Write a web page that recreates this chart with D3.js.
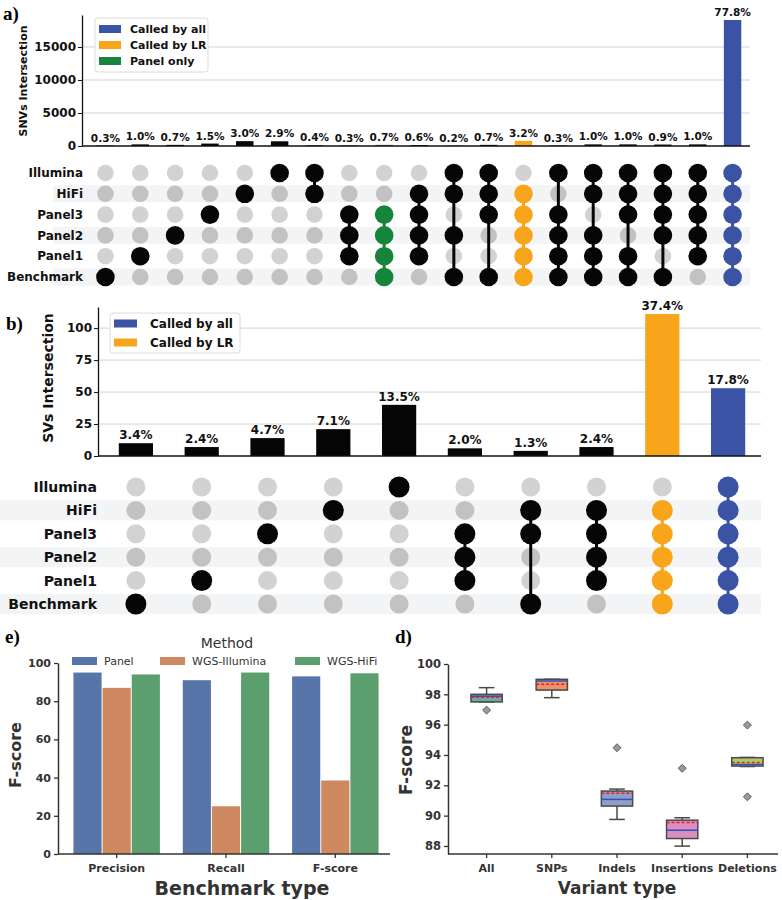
<!DOCTYPE html>
<html>
<head>
<meta charset="utf-8">
<script src="https://cdn.jsdelivr.net/npm/d3@7"></script>
<style>
body { margin: 0; background: #fff; }
text { font-family: "DejaVu Sans", sans-serif; }
</style>
</head>
<body>
<div id="chart"></div>
<script>
var setNames = ['Illumina', 'HiFi', 'Panel3', 'Panel2', 'Panel1', 'Benchmark']

// a) SNV intersections
var snvCounts = [74, 245, 172, 368, 736, 712, 98, 74, 172, 147, 49, 172, 785, 74, 245, 245, 221, 245, 19090]
var snvPct = ['0.3%', '1.0%', '0.7%', '1.5%', '3.0%', '2.9%', '0.4%', '0.3%', '0.7%', '0.6%', '0.2%', '0.7%', '3.2%', '0.3%', '1.0%', '1.0%', '0.9%', '1.0%', '77.8%']
var snvSets = [
  ['Benchmark'], ['Panel1'], ['Panel2'], ['Panel3'], ['HiFi'], ['Illumina'],
  ['Illumina', 'HiFi'],
  ['Panel3', 'Panel2', 'Panel1'],
  ['Panel3', 'Panel2', 'Panel1', 'Benchmark'],
  ['HiFi', 'Panel3', 'Panel2', 'Panel1'],
  ['Illumina', 'HiFi', 'Panel2', 'Benchmark'],
  ['Illumina', 'HiFi', 'Panel3', 'Benchmark'],
  ['HiFi', 'Panel3', 'Panel2', 'Panel1', 'Benchmark'],
  ['Illumina', 'Panel3', 'Panel2', 'Panel1', 'Benchmark'],
  ['Illumina', 'HiFi', 'Panel2', 'Panel1', 'Benchmark'],
  ['Illumina', 'HiFi', 'Panel3', 'Panel1', 'Benchmark'],
  ['Illumina', 'HiFi', 'Panel3', 'Panel2', 'Benchmark'],
  ['Illumina', 'HiFi', 'Panel3', 'Panel2', 'Panel1'],
  ['Illumina', 'HiFi', 'Panel3', 'Panel2', 'Panel1', 'Benchmark']
]
var snvKind = ['', '', '', '', '', '', '', '', 'panel', '', '', '', 'lr', '', '', '', '', '', 'all']
var snvTicks = [0, 5000, 10000, 15000]
var snvLegend = ['Called by all', 'Called by LR', 'Panel only']

// b) SV intersections
var svCounts = [10, 7, 14, 21, 40, 6, 4, 7, 111, 53]
var svPct = ['3.4%', '2.4%', '4.7%', '7.1%', '13.5%', '2.0%', '1.3%', '2.4%', '37.4%', '17.8%']
var svSets = [
  ['Benchmark'], ['Panel1'], ['Panel3'], ['HiFi'], ['Illumina'],
  ['Panel3', 'Panel2', 'Panel1'],
  ['HiFi', 'Panel3', 'Benchmark'],
  ['HiFi', 'Panel3', 'Panel2', 'Panel1'],
  ['HiFi', 'Panel3', 'Panel2', 'Panel1', 'Benchmark'],
  ['Illumina', 'HiFi', 'Panel3', 'Panel2', 'Panel1', 'Benchmark']
]
var svKind = ['', '', '', '', '', '', '', '', 'lr', 'all']
var svTicks = [0, 25, 50, 75, 100]
var svLegend = ['Called by all', 'Called by LR']

// c) benchmark scores
var benchTypes = ['Precision', 'Recall', 'F-score']
var methods = ['Panel', 'WGS-Illumina', 'WGS-HiFi']
var panelScores = [95, 91, 93]
var illuminaScores = [87, 25, 38.5]
var hifiScores = [94, 95, 94.6]
var cTicks = [0, 20, 40, 60, 80, 100]

// d) F-score per variant type
var variantTypes = ['All', 'SNPs', 'Indels', 'Insertions', 'Deletions']
var boxLow = [97.5, 97.78, 89.75, 87.99, 93.24]
var boxQ1 = [97.5, 98.28, 90.63, 88.49, 93.27]
var boxMedian = [97.88, 98.88, 91.07, 89.04, 93.38]
var boxMean = [97.8, 98.66, 91.47, 89.55, 93.51]
var boxQ3 = [98.0, 98.99, 91.62, 89.7, 93.82]
var boxHigh = [98.44, 98.99, 91.75, 89.86, 93.84]
var boxOutliers = [[96.96], [], [94.48], [93.12], [95.97, 91.24]]
var dTicks = [88, 90, 92, 94, 96, 98, 100]

var kindColor = {'': '#060606', all: '#3a53a4', lr: '#f8a51b', panel: '#17843b'}
var legendColor = {'Called by all': '#3a53a4', 'Called by LR': '#f8a51b', 'Panel only': '#17843b'}

var svg = d3.select('#chart').append('svg').attr('width', 782).attr('height', 900)

function upset(o) {
  var g = svg.append('g')
  var n = o.counts.length
  var x = d3.scaleBand().domain(d3.range(n)).range(o.xRange).paddingInner(o.pad).paddingOuter(o.pad / 2)
  var y = d3.scaleLinear().domain(o.yDomain).range(o.yRange)
  var rows = d3.scaleBand().domain(setNames)
    .range([o.row0 - o.rowStep / 2, o.row0 + (setNames.length - 0.5) * o.rowStep])
  var cx = function(i){ return x(i) + x.bandwidth() / 2 }
  var cy = function(s){ return rows(s) + rows.bandwidth() / 2 }

  g.selectAll('line.grid').data(o.ticks.filter(function(t){ return t > 0 })).join('line')
    .attr('x1', o.axisX).attr('x2', o.xEnd)
    .attr('y1', y).attr('y2', y)
    .attr('stroke', '#d3d3d3').attr('stroke-width', 1)

  g.selectAll('rect.bar').data(o.counts).join('rect')
    .attr('x', function(d, i){ return x(i) })
    .attr('width', x.bandwidth())
    .attr('y', function(d){ return y(d) })
    .attr('height', function(d){ return y(0) - y(d) })
    .attr('fill', function(d, i){ return kindColor[o.kind[i]] })

  g.selectAll('text.pct').data(o.counts).join('text')
    .attr('x', function(d, i){ return cx(i) })
    .attr('y', function(d){ return y(d) - 4 })
    .attr('text-anchor', 'middle')
    .style('font-size', o.pctSize + 'px').style('font-weight', 'bold').attr('fill', '#111')
    .text(function(d, i){ return o.pct[i] })

  var ax = g.append('g').attr('transform', 'translate(' + o.axisX + ',0)')
    .call(d3.axisLeft(y).tickValues(o.ticks).tickFormat(d3.format('d')).tickSize(4).tickSizeOuter(0).tickPadding(2))
  ax.select('.domain').attr('stroke', '#111').attr('stroke-width', 1.3)
  ax.selectAll('.tick line').attr('stroke', '#111')
  ax.selectAll('.tick text').style('font-size', o.tickSize + 'px').style('font-weight', 'bold')
    .style('font-family', 'DejaVu Sans').attr('fill', '#111')

  g.append('line').attr('x1', o.axisX).attr('x2', o.xEnd).attr('y1', y(0)).attr('y2', y(0))
    .attr('stroke', '#111').attr('stroke-width', 1.3)

  g.append('text')
    .attr('transform', 'translate(' + o.ylabX + ',' + o.ylabY + ') rotate(-90)')
    .attr('dy', '0.35em').attr('text-anchor', 'middle')
    .style('font-size', o.ylabSize + 'px').style('font-weight', 'bold').attr('fill', '#111')
    .text(o.ylab)

  // legend
  var lg = g.append('g')
  lg.append('rect').attr('x', o.leg.x).attr('y', o.leg.y).attr('width', o.leg.w).attr('height', o.leg.h)
    .attr('rx', 3).attr('fill', '#fff').attr('stroke', '#dcdcdc')
  o.legend.forEach(function(name, i){
    var yy = o.leg.y + o.leg.first + i * o.leg.step
    lg.append('rect').attr('x', o.leg.x + 4).attr('y', yy - 4).attr('width', o.leg.sw).attr('height', 8)
      .attr('fill', legendColor[name])
    lg.append('text').attr('x', o.leg.x + o.leg.tx).attr('y', yy).attr('dy', '0.35em')
      .style('font-size', o.leg.fs + 'px').style('font-weight', 'bold').attr('fill', '#111').text(name)
  })

  // matrix stripes
  g.selectAll('rect.stripe').data(setNames.filter(function(s, i){ return i % 2 == 1 })).join('rect')
    .attr('x', o.stripeX0).attr('width', o.xEnd - o.stripeX0)
    .attr('y', function(s){ return cy(s) - o.stripeH / 2 }).attr('height', o.stripeH)
    .attr('fill', '#f3f4f6')

  g.selectAll('text.row').data(setNames).join('text')
    .attr('x', o.rowLabX).attr('y', cy).attr('dy', '0.35em').attr('text-anchor', 'end')
    .style('font-size', o.rowSize + 'px').style('font-weight', 'bold').attr('fill', '#111')
    .text(function(s){ return s })

  o.sets.forEach(function(members, i){
    setNames.forEach(function(s, j){
      if (members.indexOf(s) < 0) {
        g.append('circle').attr('cx', cx(i)).attr('cy', cy(s)).attr('r', o.rOff)
          .attr('fill', j % 2 == 1 ? '#c2c2c2' : '#d2d2d2')
      }
    })
    var col = kindColor[o.kind[i]]
    var ys = members.map(cy)
    if (members.length > 1) {
      g.append('line').attr('x1', cx(i)).attr('x2', cx(i))
        .attr('y1', d3.min(ys)).attr('y2', d3.max(ys))
        .attr('stroke', col).attr('stroke-width', 3)
    }
    members.forEach(function(s){
      g.append('circle').attr('cx', cx(i)).attr('cy', cy(s)).attr('r', o.rOn).attr('fill', col)
    })
  })
}

upset({
  counts: snvCounts, pct: snvPct, sets: snvSets, kind: snvKind, ticks: snvTicks, legend: snvLegend,
  xRange: [88, 750], xEnd: 750, pad: 0.5, axisX: 82,
  yDomain: [0, 19850], yRange: [146, 15],
  pctSize: 10.5, tickSize: 12, ylab: 'SNVs Intersection', ylabX: 23, ylabY: 81, ylabSize: 11,
  leg: {x: 95, y: 18, w: 113, h: 54, first: 11, step: 16, sw: 22, tx: 35, fs: 11},
  row0: 173, rowStep: 20.8, stripeX0: 53, stripeH: 17, rowLabX: 83, rowSize: 12, rOn: 9.3, rOff: 8.3
})

upset({
  counts: svCounts, pct: svPct, sets: svSets, kind: svKind, ticks: svTicks, legend: svLegend,
  xRange: [103, 761], xEnd: 761, pad: 0.48, axisX: 98,
  yDomain: [0, 116.5], yRange: [456, 307],
  pctSize: 12, tickSize: 12, ylab: 'SVs Intersection', ylabX: 48, ylabY: 378, ylabSize: 14,
  leg: {x: 110, y: 313, w: 130, h: 40, first: 10.5, step: 19, sw: 23, tx: 40, fs: 12},
  row0: 487, rowStep: 23.4, stripeX0: 0, stripeH: 20, rowLabX: 97, rowSize: 14, rOn: 10.5, rOff: 9.5
})

// panel letters
var letters = [['a)', 3, 20], ['b)', 6, 330], ['e)', 5, 643], ['d)', 395, 643]]
svg.selectAll('text.letter').data(letters).join('text')
  .attr('x', function(d){ return d[1] }).attr('y', function(d){ return d[2] })
  .style('font-family', '"Liberation Serif", serif').style('font-size', '19px').style('font-weight', 'bold')
  .attr('fill', '#000').text(function(d){ return d[0] })

// c) grouped bars
var methodColor = ['#5875a9', '#cf8960', '#5c9f6e']
var scoreSeries = [panelScores, illuminaScores, hifiScores]
var gc = svg.append('g')
var xc = d3.scaleBand().domain(benchTypes).range([62, 390]).paddingInner(0.2).paddingOuter(0.1)
var xm = d3.scaleBand().domain(methods).range([0, xc.bandwidth()])
var yc = d3.scaleLinear().domain([0, 100]).range([854, 663])

methods.forEach(function(m, k){
  gc.selectAll('rect.m' + k).data(scoreSeries[k]).join('rect')
    .attr('x', function(d, i){ return xc(benchTypes[i]) + xm(m) + 0.5 })
    .attr('width', xm.bandwidth() - 1)
    .attr('y', function(d){ return yc(d) })
    .attr('height', function(d){ return yc(0) - yc(d) })
    .attr('fill', methodColor[k])
})

var cyAxis = gc.append('g').attr('transform', 'translate(58,0)')
  .call(d3.axisLeft(yc).tickValues(cTicks).tickSize(4).tickSizeOuter(0).tickPadding(3))
var cxAxis = gc.append('g').attr('transform', 'translate(0,854)')
  .call(d3.axisBottom(xc).tickSize(4).tickSizeOuter(0).tickPadding(4))
cxAxis.select('.domain').attr('d', 'M58,0H390')
;[cyAxis, cxAxis].forEach(function(a){
  a.select('.domain').attr('stroke', '#333').attr('stroke-width', 1.5)
  a.selectAll('.tick line').attr('stroke', '#333').attr('stroke-width', 1.3)
  a.selectAll('.tick text').style('font-size', '11px').style('font-weight', 'bold')
    .style('font-family', 'DejaVu Sans').attr('fill', '#333')
})
cxAxis.selectAll('.tick text').attr('dy', '0.9em')

gc.append('text').attr('transform', 'translate(15,755) rotate(-90)').attr('dy', '0.35em')
  .attr('text-anchor', 'middle').style('font-size', '16px').style('font-weight', 'bold').attr('fill', '#333')
  .text('F-score')
gc.append('text').attr('x', 242).attr('y', 895).attr('text-anchor', 'middle')
  .style('font-size', '19px').style('font-weight', 'bold').attr('fill', '#333').text('Benchmark type')

gc.append('text').attr('x', 227).attr('y', 648).attr('text-anchor', 'middle')
  .style('font-size', '14px').attr('fill', '#333').text('Method')
var legX = [72, 160, 295]
methods.forEach(function(m, k){
  gc.append('rect').attr('x', legX[k]).attr('y', 657).attr('width', 25).attr('height', 8).attr('fill', methodColor[k])
  gc.append('text').attr('x', legX[k] + 32).attr('y', 661).attr('dy', '0.35em')
    .style('font-size', '11px').attr('fill', '#333').text(m)
})

// d) box plots
var boxColor = ['#6aad93', '#ea936c', '#929fc4', '#db8fc0', '#aecd6a']
var gd = svg.append('g')
var xd = d3.scaleBand().domain(variantTypes).range([454, 780]).paddingInner(0.52).paddingOuter(0.26)
var yd = d3.scaleLinear().domain([87.47, 100]).range([854, 664])
var edge = '#4a4a4a'

variantTypes.forEach(function(t, i){
  var x0 = xd(t), w = xd.bandwidth(), c = x0 + w / 2
  gd.append('line').attr('x1', c).attr('x2', c).attr('y1', yd(boxHigh[i])).attr('y2', yd(boxQ3[i]))
    .attr('stroke', edge).attr('stroke-width', 1.5)
  gd.append('line').attr('x1', c).attr('x2', c).attr('y1', yd(boxQ1[i])).attr('y2', yd(boxLow[i]))
    .attr('stroke', edge).attr('stroke-width', 1.5)
  ;[boxHigh[i], boxLow[i]].forEach(function(v){
    gd.append('line').attr('x1', c - w / 4).attr('x2', c + w / 4).attr('y1', yd(v)).attr('y2', yd(v))
      .attr('stroke', edge).attr('stroke-width', 1.5)
  })
  gd.append('rect').attr('x', x0).attr('width', w)
    .attr('y', yd(boxQ3[i])).attr('height', yd(boxQ1[i]) - yd(boxQ3[i]))
    .attr('fill', boxColor[i]).attr('stroke', edge).attr('stroke-width', 1.5)
  gd.append('line').attr('x1', x0).attr('x2', x0 + w).attr('y1', yd(boxMedian[i])).attr('y2', yd(boxMedian[i]))
    .attr('stroke', '#3150c8').attr('stroke-width', 1.5)
  gd.append('line').attr('x1', x0).attr('x2', x0 + w).attr('y1', yd(boxMean[i])).attr('y2', yd(boxMean[i]))
    .attr('stroke', '#ee1c25').attr('stroke-width', 1.5).attr('stroke-dasharray', '3,2')
  boxOutliers[i].forEach(function(v){
    gd.append('path').attr('d', d3.symbol(d3.symbolDiamond2, 40)())
      .attr('transform', 'translate(' + c + ',' + yd(v) + ')')
      .attr('fill', '#9a9a9a').attr('stroke', '#5a5a5a').attr('stroke-width', 1)
  })
})

var dyAxis = gd.append('g').attr('transform', 'translate(448,0)')
  .call(d3.axisLeft(yd).tickValues(dTicks).tickSize(4).tickSizeOuter(0).tickPadding(3))
var dxAxis = gd.append('g').attr('transform', 'translate(0,854)')
  .call(d3.axisBottom(xd).tickSize(4).tickSizeOuter(0).tickPadding(4))
dxAxis.select('.domain').attr('d', 'M448,0H778')
;[dyAxis, dxAxis].forEach(function(a){
  a.select('.domain').attr('stroke', '#333').attr('stroke-width', 1.5)
  a.selectAll('.tick line').attr('stroke', '#333').attr('stroke-width', 1.3)
  a.selectAll('.tick text').style('font-size', '11.5px').style('font-weight', 'bold')
    .style('font-family', 'DejaVu Sans').attr('fill', '#333')
})
dxAxis.selectAll('.tick text').style('font-size', '11px').attr('dy', '0.9em')

gd.append('text').attr('transform', 'translate(406,760) rotate(-90)').attr('dy', '0.35em')
  .attr('text-anchor', 'middle').style('font-size', '17px').style('font-weight', 'bold').attr('fill', '#333')
  .text('F-score')
gd.append('text').attr('x', 617).attr('y', 894).attr('text-anchor', 'middle')
  .style('font-size', '17px').style('font-weight', 'bold').attr('fill', '#333').text('Variant type')
</script>
</body>
</html>
